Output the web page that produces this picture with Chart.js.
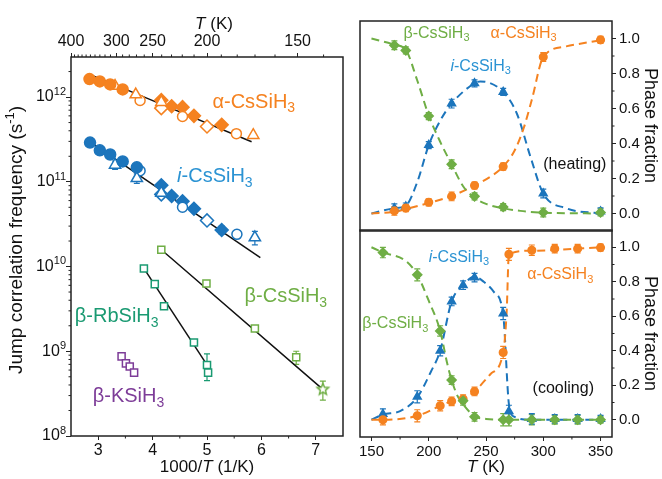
<!DOCTYPE html>
<html>
<head>
<meta charset="utf-8">
<script src="https://cdn.jsdelivr.net/npm/chart.js@4.4.1/dist/chart.umd.min.js"></script>
<style>
html, body { margin: 0; padding: 0; background: #fff; }
#wrap { position: relative; width: 662px; height: 479px; overflow: hidden; }
canvas { position: absolute; }
</style>
</head>
<body>
<div id="wrap">
  <canvas id="jumpChart" style="left:0;top:0" width="352" height="479"></canvas>
  <canvas id="heatChart" style="left:352px;top:0" width="310" height="237"></canvas>
  <canvas id="coolChart" style="left:352px;top:224px" width="310" height="255"></canvas>
</div>
<script>
const FONT = '"Liberation Sans", Arial, Helvetica, sans-serif';
Chart.defaults.font.family = FONT;
Chart.defaults.color = "#111";

const ORANGE = "#f58220";
const BLUE = "#1c75bc";
const BLUE_TXT = "#2b93d3";
const GREEN = "#6fae45";
const TEAL = "#1a9a72";
const PURPLE = "#7d3c98";

// ---- left panel: jump correlation frequency (s^-1) vs 1000/T (1/K) ----
const invTicks = [3, 4, 5, 6, 7];
const tempTicks = [400, 300, 250, 200, 150];
const tempMinor = [390, 380, 370, 360, 350, 340, 330, 320, 310, 290, 280, 270, 260, 240, 230, 220, 210, 190, 180, 170, 160, 140];
const decadeTicks = [1e8, 1e9, 1e10, 1e11, 1e12];

// alpha-CsSiH3
const aCircX = [2.84, 3.03, 3.22, 3.45];
const aCircY = [1.63e12, 1.53e12, 1.41e12, 1.23e12];
const aTriX = [3.31, 3.69, 4.16, 5.85];
const aTriY = [1.35e12, 1.07e12, 8.7e11, 3.55e11];
const aRingX = [3.77, 4.55, 5.54];
const aRingY = [9.1e11, 5.9e11, 3.7e11];
const aODiaX = [4.16, 5.0];
const aODiaY = [7.4e11, 4.5e11];
const aDiaX = [4.16, 4.35, 4.55, 4.76, 5.27];
const aDiaY = [9.2e11, 7.8e11, 7.6e11, 6.0e11, 4.7e11];
const aFitX = [2.82, 5.82];
const aFitY = [1.88e12, 2.97e11];

// i-CsSiH3
const iCircX = [2.85, 3.03, 3.22, 3.45, 3.71];
const iCircY = [2.9e11, 2.35e11, 2.1e11, 1.74e11, 1.48e11];
const iTriX = [3.31, 3.71, 4.16, 5.88];
const iTriY = [1.58e11, 1.1e11, 7.4e10, 2.2e10];
const iTriErr = [1.8e10, 1.4e10, 9e9, 4e9];
const iRingX = [3.77, 4.55, 5.55];
const iRingY = [1.35e11, 5.0e10, 2.4e10];
const iODiaX = [4.16, 5.0];
const iODiaY = [7.1e10, 3.5e10];
const iDiaX = [4.16, 4.35, 4.55, 4.76, 5.27];
const iDiaY = [9.1e10, 6.8e10, 5.9e10, 4.8e10, 2.7e10];
const iDiaErr = [0, 0, 0, 0, 3e9];
const iFitX = [2.85, 5.98];
const iFitY = [2.95e11, 1.27e10];

// beta-CsSiH3
const bCsX = [4.16, 4.99, 5.88, 6.64];
const bCsY = [1.58e10, 6.3e9, 1.86e9, 8.5e8];
const bCsErr = [0, 0, 0, 1.5e8];
const bCsStarX = [7.13];
const bCsStarY = [3.55e8];
const bCsStarErr = [9e7];
const bCsFitX = [4.16, 7.13];
const bCsFitY = [1.58e10, 3.55e8];

// beta-RbSiH3
const bRbX = [3.84, 4.04, 4.21, 4.76, 5.0, 5.02];
const bRbY = [9.5e9, 6.2e9, 3.4e9, 1.27e9, 6.9e8, 5.6e8];
const bRbErr = [0, 0, 0, 0, 2.4e8, 0];
const bRbFitX = [3.84, 5.0];
const bRbFitY = [9.5e9, 6.9e8];

// beta-KSiH3
const bKX = [3.43, 3.51, 3.58, 3.66];
const bKY = [8.7e8, 7.2e8, 6.6e8, 5.6e8];

// ---- right panels: phase fraction vs T (K) ----
const phaseTicks = [0, 0.2, 0.4, 0.6, 0.8, 1.0];
const kelvinTicks = [150, 200, 250, 300, 350];

const heatT = [170, 180, 200, 220, 240, 265, 300, 350];
const heatBeta = [0.961, 0.932, 0.557, 0.281, 0.098, 0.037, 0.006, 0.006];
const heatAlpha = [0.015, 0.031, 0.064, 0.098, 0.16, 0.268, 0.894, 0.992];
const heatI = [0.03, 0.04, 0.391, 0.628, 0.744, 0.695, 0.114, 0.012];
const heatErr = [0.025, 0.02, 0.02, 0.025, 0.02, 0.02, 0.025, 0.02];
const heatBetaFitT = [150, 170, 180, 190, 200, 210, 220, 230, 240, 250, 265, 280, 300, 350];
const heatBetaFit = [1.0, 0.965, 0.935, 0.76, 0.56, 0.41, 0.28, 0.156, 0.09, 0.055, 0.03, 0.015, 0.005, 0.0];
const heatAlphaFitT = [150, 170, 180, 200, 220, 240, 255, 265, 275, 283, 290, 300, 320, 350];
const heatAlphaFit = [0.0, 0.01, 0.025, 0.06, 0.1, 0.16, 0.215, 0.268, 0.36, 0.49, 0.65, 0.894, 0.955, 0.99];
const heatIFitT = [150, 170, 180, 190, 200, 210, 220, 240, 245, 265, 277, 289, 300, 320, 350];
const heatIFit = [0.0, 0.03, 0.045, 0.18, 0.39, 0.53, 0.628, 0.744, 0.755, 0.695, 0.57, 0.32, 0.114, 0.03, 0.0];

const coolT = [160, 190, 210, 220, 230, 240, 265, 270, 290, 310, 330, 350];
const coolBeta = [0.969, 0.84, 0.515, 0.23, 0.11, 0.017, 0.0, 0.0, 0.0, 0.0, 0.0, 0.0];
const coolAlpha = [0.0, 0.023, 0.081, 0.107, 0.12, 0.164, 0.39, 0.959, 0.983, 0.992, 0.992, 0.998];
const coolI = [0.033, 0.133, 0.40, 0.686, 0.78, 0.824, 0.616, 0.049, 0.005, 0.005, 0.005, 0.005];
const coolErr = [0.03, 0.035, 0.03, 0.025, 0.025, 0.025, 0.035, 0.035, 0.03, 0.025, 0.025, 0.02];
const coolBetaFitT = [150, 160, 180, 190, 200, 210, 216, 220, 225, 230, 240, 250, 270, 350];
const coolBetaFit = [1.0, 0.97, 0.92, 0.84, 0.69, 0.515, 0.33, 0.23, 0.14, 0.09, 0.02, 0.005, 0.0, 0.0];
const coolAlphaFitT = [150, 160, 190, 210, 220, 230, 240, 254, 265, 268, 270, 290, 350];
const coolAlphaFit = [0.0, 0.0, 0.023, 0.08, 0.107, 0.12, 0.164, 0.265, 0.39, 0.62, 0.96, 0.98, 1.0];
const coolIFitT = [150, 160, 175, 190, 202, 210, 220, 230, 240, 248, 257, 265, 270, 274, 290, 350];
const coolIFit = [0.0, 0.03, 0.05, 0.13, 0.28, 0.40, 0.686, 0.78, 0.83, 0.80, 0.74, 0.61, 0.09, 0.02, 0.0, 0.0];

// ---- helpers ----
const pts = (xs, ys) => xs.map((x, i) => ({ x, y: ys[i] }));

function marks(xs, ys, color, style, open, r, err) {
    return {
        data: pts(xs, ys),
        pointStyle: style,
        pointRadius: r,
        borderColor: color,
        backgroundColor: open ? "#fff" : color,
        pointBorderWidth: 1.5,
        showLine: false,
        err
    };
}

function curve(xs, ys, color, dash) {
    return {
        data: pts(xs, ys),
        showLine: true,
        borderColor: color,
        borderWidth: dash ? 2 : 1.5,
        borderDash: dash || [],
        pointRadius: 0,
        cubicInterpolationMode: "monotone",
        fill: false
    };
}

function starImage(color, r) {
    const c = document.createElement("canvas");
    const s = 2 * r + 4;
    c.width = c.height = s;
    const g = c.getContext("2d");
    g.beginPath();
    for (let i = 0; i < 10; i++) {
        const ang = -Math.PI / 2 + (i * Math.PI) / 5;
        const rr = i % 2 ? r * 0.45 : r;
        g.lineTo(s / 2 + rr * Math.cos(ang), s / 2 + rr * Math.sin(ang));
    }
    g.closePath();
    g.fillStyle = "#fff";
    g.fill();
    g.strokeStyle = color;
    g.lineWidth = 1.5;
    g.stroke();
    return c;
}

// text with italic / sub / sup pieces: segs = [[text, style], ...]
function richText(ctx, x, y, segs, size, color, align, rot) {
    ctx.save();
    ctx.translate(x, y);
    if (rot) ctx.rotate(rot);
    const parts = segs.map(([t, s]) => {
        const small = s === "sub" || s === "sup";
        const font = (s === "i" ? "italic " : "") + (small ? Math.round(size * 0.68) : size) + "px " + FONT;
        ctx.font = font;
        return { t, s, font, w: ctx.measureText(t).width };
    });
    const total = parts.reduce((sum, p) => sum + p.w, 0);
    let cx = align === "center" ? -total / 2 : align === "right" ? -total : 0;
    ctx.fillStyle = color;
    ctx.textAlign = "left";
    ctx.textBaseline = "middle";
    parts.forEach((p) => {
        ctx.font = p.font;
        const dy = p.s === "sub" ? size * 0.3 : p.s === "sup" ? -size * 0.33 : 0;
        ctx.fillText(p.t, cx, dy);
        cx += p.w;
    });
    ctx.restore();
}

function tickAt(ctx, scale, a, v, len) {
    const p = scale.getPixelForValue(v);
    ctx.beginPath();
    if (scale.position === "left") { ctx.moveTo(a.left - len, p); ctx.lineTo(a.left, p); }
    else if (scale.position === "right") { ctx.moveTo(a.right, p); ctx.lineTo(a.right + len, p); }
    else if (scale.position === "top") { ctx.moveTo(p, a.top - len); ctx.lineTo(p, a.top); }
    else { ctx.moveTo(p, a.bottom); ctx.lineTo(p, a.bottom + len); }
    ctx.stroke();
}

function framePlugin(cfg) {
    return {
        id: "frame",
        beforeDatasetsDraw(chart) {
            const { ctx } = chart;
            chart.data.datasets.forEach((ds, i) => {
                if (!ds.err) return;
                const meta = chart.getDatasetMeta(i);
                const ys = chart.scales[meta.yAxisID];
                ctx.save();
                ctx.strokeStyle = ds.borderColor;
                ctx.lineWidth = 1.2;
                meta.data.forEach((pt, j) => {
                    const e = ds.err[j];
                    if (!e) return;
                    const v = ds.data[j].y;
                    const top = ys.getPixelForValue(v + e);
                    const bot = ys.getPixelForValue(v - e);
                    ctx.beginPath();
                    ctx.moveTo(pt.x, top); ctx.lineTo(pt.x, bot);
                    ctx.moveTo(pt.x - 3, top); ctx.lineTo(pt.x + 3, top);
                    ctx.moveTo(pt.x - 3, bot); ctx.lineTo(pt.x + 3, bot);
                    ctx.stroke();
                });
                ctx.restore();
            });
        },
        afterDraw(chart) {
            const { ctx, chartArea: a } = chart;
            ctx.save();
            ctx.strokeStyle = "#222";
            ctx.lineWidth = 1;
            Object.entries(cfg.minor || {}).forEach(([id, vals]) => {
                vals.forEach((v) => tickAt(ctx, chart.scales[id], a, v, 2.5));
            });
            ctx.lineWidth = 1.5;
            ctx.strokeRect(a.left, a.top, a.right - a.left, a.bottom - a.top);
            ctx.restore();
            if (cfg.pow) {
                const ys = chart.scales.y;
                ys.ticks.forEach((t) => {
                    const exp = Math.round(Math.log10(t.value));
                    richText(ctx, a.left - 5, ys.getPixelForValue(t.value), [["10"], [String(exp), "sup"]], 16, "#111", "right");
                });
            }
            (cfg.labels || []).forEach((l) => {
                richText(ctx, chart.scales.x.getPixelForValue(l.x), chart.scales.y.getPixelForValue(l.y),
                    l.segs, l.size, l.color, "left");
            });
            (cfg.titles || []).forEach((t) => richText(ctx, t.x, t.y, t.segs, t.size, "#111", "center", t.rot));
        }
    };
}

// fixed axis band sizes, no extra room for overhanging labels
const fixH = (h) => (s) => { s.height = h; s.paddingLeft = 0; s.paddingRight = 0; };
const fixW = (w) => (s) => { s.width = w; s.paddingTop = 0; s.paddingBottom = 0; };

const baseOptions = {
    responsive: false,
    animation: false,
    events: [],
    plugins: { legend: { display: false }, tooltip: { enabled: false } }
};

const tickGrid = { drawOnChartArea: false, tickLength: 4, tickColor: "#222", lineWidth: 1 };

// ---- left chart ----
const decadeMinor = [];
[1e8, 1e9, 1e10, 1e11].forEach((d) => [2, 3, 4, 5, 6, 7, 8, 9].forEach((m) => decadeMinor.push(m * d)));
decadeMinor.push(2e12);

new Chart(document.getElementById("jumpChart"), {
    type: "scatter",
    plugins: [framePlugin({
        pow: true,
        minor: { x: [3.5, 4.5, 5.5, 6.5], xt: tempMinor.map((t) => 1000 / t), y: decadeMinor },
        labels: [
            { x: 5.1, y: 8.6e11, segs: [["\u03b1-CsSiH"], ["3", "sub"]], size: 20, color: ORANGE },
            { x: 4.45, y: 1.15e11, segs: [["i", "i"], ["-CsSiH"], ["3", "sub"]], size: 20, color: BLUE_TXT },
            { x: 5.69, y: 4.4e9, segs: [["\u03b2-CsSiH"], ["3", "sub"]], size: 20, color: GREEN },
            { x: 2.57, y: 2.54e9, segs: [["\u03b2-RbSiH"], ["3", "sub"]], size: 20, color: TEAL },
            { x: 2.9, y: 2.9e8, segs: [["\u03b2-KSiH"], ["3", "sub"]], size: 20, color: PURPLE }
        ],
        titles: [
            { x: 207, y: 467, segs: [["1000/"], ["T", "i"], [" (1/K)"]], size: 17 },
            { x: 214, y: 24, segs: [["T", "i"], [" (K)"]], size: 17 },
            { x: 17, y: 240, segs: [["Jump correlation frequency (s"], ["-1", "sup"], [")"]], size: 19, rot: -Math.PI / 2 }
        ]
    })],
    data: {
        datasets: [
            marks(aCircX, aCircY, ORANGE, "circle", false, 5.5),
            marks(aTriX, aTriY, ORANGE, "triangle", true, 6.5),
            marks(aRingX, aRingY, ORANGE, "circle", true, 5),
            marks(aODiaX, aODiaY, ORANGE, "rectRot", true, 6.5),
            marks(aDiaX, aDiaY, ORANGE, "rectRot", false, 6.5),
            marks(iCircX, iCircY, BLUE, "circle", false, 5.5),
            marks(iTriX, iTriY, BLUE, "triangle", true, 6.5, iTriErr),
            marks(iRingX, iRingY, BLUE, "circle", true, 5),
            marks(iODiaX, iODiaY, BLUE, "rectRot", true, 6.5),
            marks(iDiaX, iDiaY, BLUE, "rectRot", false, 6.5, iDiaErr),
            marks(bCsX, bCsY, GREEN, "rect", true, 5, bCsErr),
            marks(bCsStarX, bCsStarY, GREEN, starImage(GREEN, 6), true, 6, bCsStarErr),
            marks(bRbX, bRbY, TEAL, "rect", true, 5, bRbErr),
            marks(bKX, bKY, PURPLE, "rect", true, 5),
            curve(aFitX, aFitY, "#111"),
            curve(iFitX, iFitY, "#111"),
            curve(bCsFitX, bCsFitY, "#111"),
            curve(bRbFitX, bRbFitY, "#111")
        ]
    },
    options: {
        ...baseOptions,
        layout: { padding: { left: 0, right: 9, top: 0, bottom: 0 } },
        scales: {
            x: {
                type: "linear", position: "bottom", min: 2.5, max: 7.5,
                afterBuildTicks: (s) => { s.ticks = invTicks.map((v) => ({ value: v })); },
                afterFit: fixH(43),
                grid: tickGrid, border: { display: false },
                ticks: { font: { size: 16 }, color: "#111", padding: 1, maxRotation: 0 }
            },
            xt: {
                type: "linear", position: "top", min: 2.5, max: 7.5,
                afterBuildTicks: (s) => { s.ticks = tempTicks.map((t) => ({ value: 1000 / t })); },
                afterFit: fixH(57),
                grid: tickGrid, border: { display: false },
                ticks: { font: { size: 16 }, color: "#111", padding: 2, maxRotation: 0,
                    callback: (v) => String(Math.round(1000 / v)) }
            },
            y: {
                type: "logarithmic", position: "left", min: 1e8, max: 2.97e12,
                afterBuildTicks: (s) => { s.ticks = decadeTicks.map((v) => ({ value: v })); },
                afterFit: fixW(71),
                grid: { ...tickGrid, tickLength: 5 }, border: { display: false },
                ticks: { callback: () => "" }
            }
        }
    }
});

// ---- right charts ----
function phaseScales(showX) {
    return {
        x: {
            type: "linear", position: "bottom", min: 140, max: 360, display: showX,
            afterBuildTicks: (s) => { s.ticks = kelvinTicks.map((v) => ({ value: v })); },
            afterFit: fixH(showX ? 42 : 0),
            grid: tickGrid, border: { display: false },
            ticks: { font: { size: 15 }, color: "#111", padding: 2, maxRotation: 0 }
        },
        y: {
            type: "linear", position: "right", min: -0.1, max: 1.1,
            afterBuildTicks: (s) => { s.ticks = phaseTicks.map((v) => ({ value: v })); },
            afterFit: fixW(50),
            grid: tickGrid, border: { display: false },
            ticks: { font: { size: 15 }, color: "#111", padding: 3, callback: (v) => v.toFixed(1) }
        }
    };
}

const DASH = [8, 5];

new Chart(document.getElementById("heatChart"), {
    type: "scatter",
    plugins: [framePlugin({
        minor: { y: [0.1, 0.3, 0.5, 0.7, 0.9] },
        labels: [
            { x: 178, y: 1.03, segs: [["\u03b2-CsSiH"], ["3", "sub"]], size: 16, color: GREEN },
            { x: 254, y: 1.03, segs: [["\u03b1-CsSiH"], ["3", "sub"]], size: 16, color: ORANGE },
            { x: 219, y: 0.84, segs: [["i", "i"], ["-CsSiH"], ["3", "sub"]], size: 16, color: BLUE_TXT },
            { x: 300, y: 0.277, segs: [["(heating)"]], size: 16, color: "#111" }
        ],
        titles: [
            { x: 298, y: 125.5, segs: [["Phase fraction"]], size: 18, rot: Math.PI / 2 }
        ]
    })],
    data: {
        datasets: [
            marks(heatT, heatBeta, GREEN, "rectRot", false, 4.5, heatErr),
            marks(heatT, heatAlpha, ORANGE, "circle", false, 3.8, heatErr),
            marks(heatT, heatI, BLUE, "triangle", false, 4.5, heatErr),
            curve(heatBetaFitT, heatBetaFit, GREEN, DASH),
            curve(heatAlphaFitT, heatAlphaFit, ORANGE, DASH),
            curve(heatIFitT, heatIFit, BLUE, DASH)
        ]
    },
    options: {
        ...baseOptions,
        layout: { padding: { left: 8, right: 0, top: 21, bottom: 1 } },
        scales: phaseScales(false)
    }
});

new Chart(document.getElementById("coolChart"), {
    type: "scatter",
    plugins: [framePlugin({
        minor: { x: [175, 225, 275, 325], y: [0.1, 0.3, 0.5, 0.7, 0.9] },
        labels: [
            { x: 200, y: 0.94, segs: [["i", "i"], ["-CsSiH"], ["3", "sub"]], size: 16, color: BLUE_TXT },
            { x: 286, y: 0.84, segs: [["\u03b1-CsSiH"], ["3", "sub"]], size: 16, color: ORANGE },
            { x: 142, y: 0.555, segs: [["\u03b2-CsSiH"], ["3", "sub"]], size: 16, color: GREEN },
            { x: 290.7, y: 0.18, segs: [["(cooling)"]], size: 16, color: "#111" }
        ],
        titles: [
            { x: 298, y: 109.5, segs: [["Phase fraction"]], size: 18, rot: Math.PI / 2 },
            { x: 134, y: 243, segs: [["T", "i"], [" (K)"]], size: 17 }
        ]
    })],
    data: {
        datasets: [
            marks(coolT, coolBeta, GREEN, "rectRot", false, 4.5, coolErr),
            marks(coolT, coolAlpha, ORANGE, "circle", false, 3.8, coolErr),
            marks(coolT, coolI, BLUE, "triangle", false, 4.5, coolErr),
            curve(coolBetaFitT, coolBetaFit, GREEN, DASH),
            curve(coolAlphaFitT, coolAlphaFit, ORANGE, DASH),
            curve(coolIFitT, coolIFit, BLUE, DASH)
        ]
    },
    options: {
        ...baseOptions,
        layout: { padding: { left: 8, right: 0, top: 1, bottom: 0 } },
        scales: phaseScales(true)
    }
});
</script>
</body>
</html>
